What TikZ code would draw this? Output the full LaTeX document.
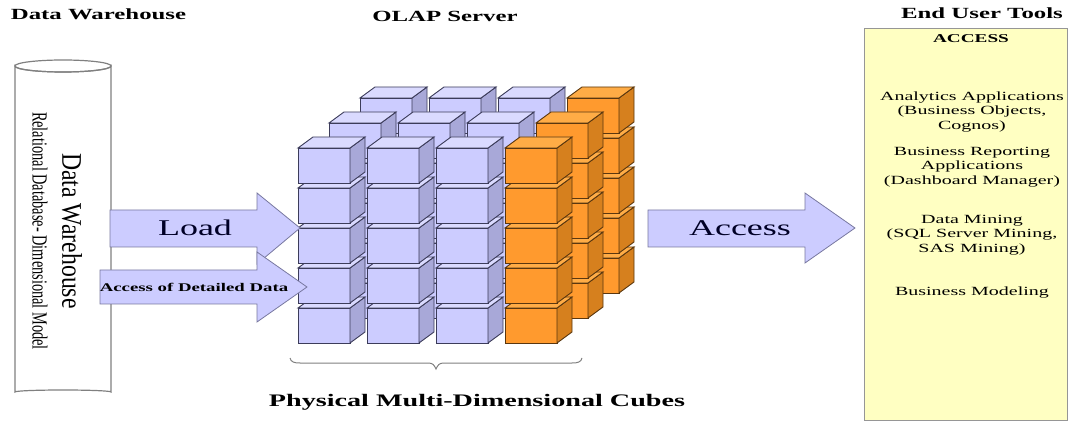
\documentclass[tikz,border=0pt]{standalone}
\usepackage{fontspec}
\setmainfont{Liberation Serif}
\newfontfamily\ws[FakeStretch=1.6]{Liberation Serif}
\definecolor{pfront}{RGB}{204,204,255}
\definecolor{ptop}{RGB}{218,218,255}
\definecolor{pside}{RGB}{168,168,216}
\definecolor{pedge}{RGB}{60,60,90}
\definecolor{ofront}{RGB}{255,154,46}
\definecolor{otop}{RGB}{255,172,70}
\definecolor{oside}{RGB}{214,128,30}
\definecolor{oedge}{RGB}{90,55,15}
\definecolor{arrowfill}{RGB}{204,204,255}
\definecolor{arrowedge}{RGB}{120,120,160}
\definecolor{boxfill}{RGB}{255,255,194}
\definecolor{boxedge}{RGB}{150,150,150}
\definecolor{cyledge}{RGB}{128,128,128}
\newcommand{\mycube}[3]{%
  \filldraw[draw=#3edge, fill=#3front, line width=0.9pt] (#1,#2) rectangle ++(52,35);
  \filldraw[draw=#3edge, fill=#3side, line width=0.9pt] (#1+52,#2) -- ++(15,-11) -- ++(0,35) -- ++(-15,11) -- cycle;
  \filldraw[draw=#3edge, fill=#3top, line width=0.9pt] (#1,#2) -- ++(15,-11) -- ++(52,0) -- ++(-15,11) -- cycle;
}
\tikzset{
  title/.style={inner sep=0pt, font=\ws\bfseries\fontsize{15.5}{18}\selectfont},
  blockarrow/.style={fill=arrowfill, draw=arrowedge, line width=0.8pt},
  arrowlabel/.style={inner sep=0pt, font=\ws\fontsize{22.5}{26}\selectfont, text=black!85!blue},
  boxtext/.style={inner sep=0pt, align=center, font=\ws\fontsize{12.5}{14.5}\selectfont},
}
\begin{document}
\begin{tikzpicture}[x=1pt,y=-1pt]
\useasboundingbox (0,0) rectangle (1073,427);
% titles
\node[title] (t1) at (98.5,14) {Data Warehouse};
\node[title] (t2) at (445,16) {OLAP Server};
\node[title] (t3) at (982,13) {End User Tools};
% cylinder
\filldraw[fill=white, draw=cyledge, line width=1.2pt] (15,66) -- (15,392) arc[start angle=180, end angle=360, x radius=48, y radius=2] -- (111,66) arc[start angle=0, end angle=180, x radius=48, y radius=6] -- cycle;
\draw[cyledge, line width=1.2pt] (63,66) ellipse[x radius=48, y radius=6];
\node[inner sep=0pt, rotate=-90] (dw) at (72,231) {\scalebox{1}[1.2]{\fontsize{23.7}{26}\selectfont Data Warehouse}};
\node[inner sep=0pt, rotate=-90] (rd) at (40,231) {\scalebox{1}[1.5]{\fontsize{14.35}{16}\selectfont Relational Database- Dimensional Model}};
% cubes
\foreach \k in {2,1,0} {
  \foreach \c in {0,1,2,3} {
    \foreach \r in {4,3,2,1,0} {
      \pgfmathsetmacro\cx{298+69*\c+31*\k}
      \pgfmathsetmacro\cy{148+40*\r-25*\k}
      \ifnum\c=3 \mycube{\cx}{\cy}{o}\else\mycube{\cx}{\cy}{p}\fi
    }
  }
}
% brace
\draw[cyledge, line width=1pt] (290,358) .. controls (291,362) and (294,363) .. (300,363) -- (428,363) .. controls (433,363) and (434,365) .. (436,369) .. controls (438,365) and (439,363) .. (444,363) -- (572,363) .. controls (578,363) and (581,362) .. (582,358);
\node[title, font=\ws\bfseries\fontsize{17.6}{20}\selectfont] (cubes) at (477,402) {Physical Multi-Dimensional Cubes};
% arrows
\draw[blockarrow] (110,210) -- (257,210) -- (257,193) -- (300,228) -- (257,264) -- (257,247) -- (110,247) -- cycle;
\node[arrowlabel] (load) at (195,228) {Load};
\draw[blockarrow] (100,270) -- (257,270) -- (257,252) -- (307,287) -- (257,322) -- (257,304) -- (100,304) -- cycle;
\node[inner sep=0pt, font=\ws\bfseries\fontsize{11.75}{14}\selectfont] (detail) at (194,287) {Access of Detailed Data};
\draw[blockarrow] (648,210) -- (805,210) -- (805,193) -- (855,228) -- (805,263) -- (805,247) -- (648,247) -- cycle;
\node[arrowlabel] (access) at (740,228) {Access};
% end user box
\node[draw=boxedge, fill=boxfill, line width=1pt, minimum width=203pt, minimum height=392pt, inner sep=0pt] (box) at (965.5,224.5) {};
\node[inner sep=0pt, font=\ws\bfseries\fontsize{12}{14}\selectfont] (acc) at (971,39) {ACCESS};
\node[boxtext] (a1) at (972,112) {Analytics Applications\\(Business Objects,\\Cognos)};
\node[boxtext] (a2) at (972,167) {Business Reporting\\Applications\\(Dashboard Manager)};
\node[boxtext] (a3) at (972,235) {Data Mining\\(SQL Server Mining,\\SAS Mining)};
\node[boxtext] (a4) at (972,293) {Business Modeling};
\end{tikzpicture}
\end{document}
